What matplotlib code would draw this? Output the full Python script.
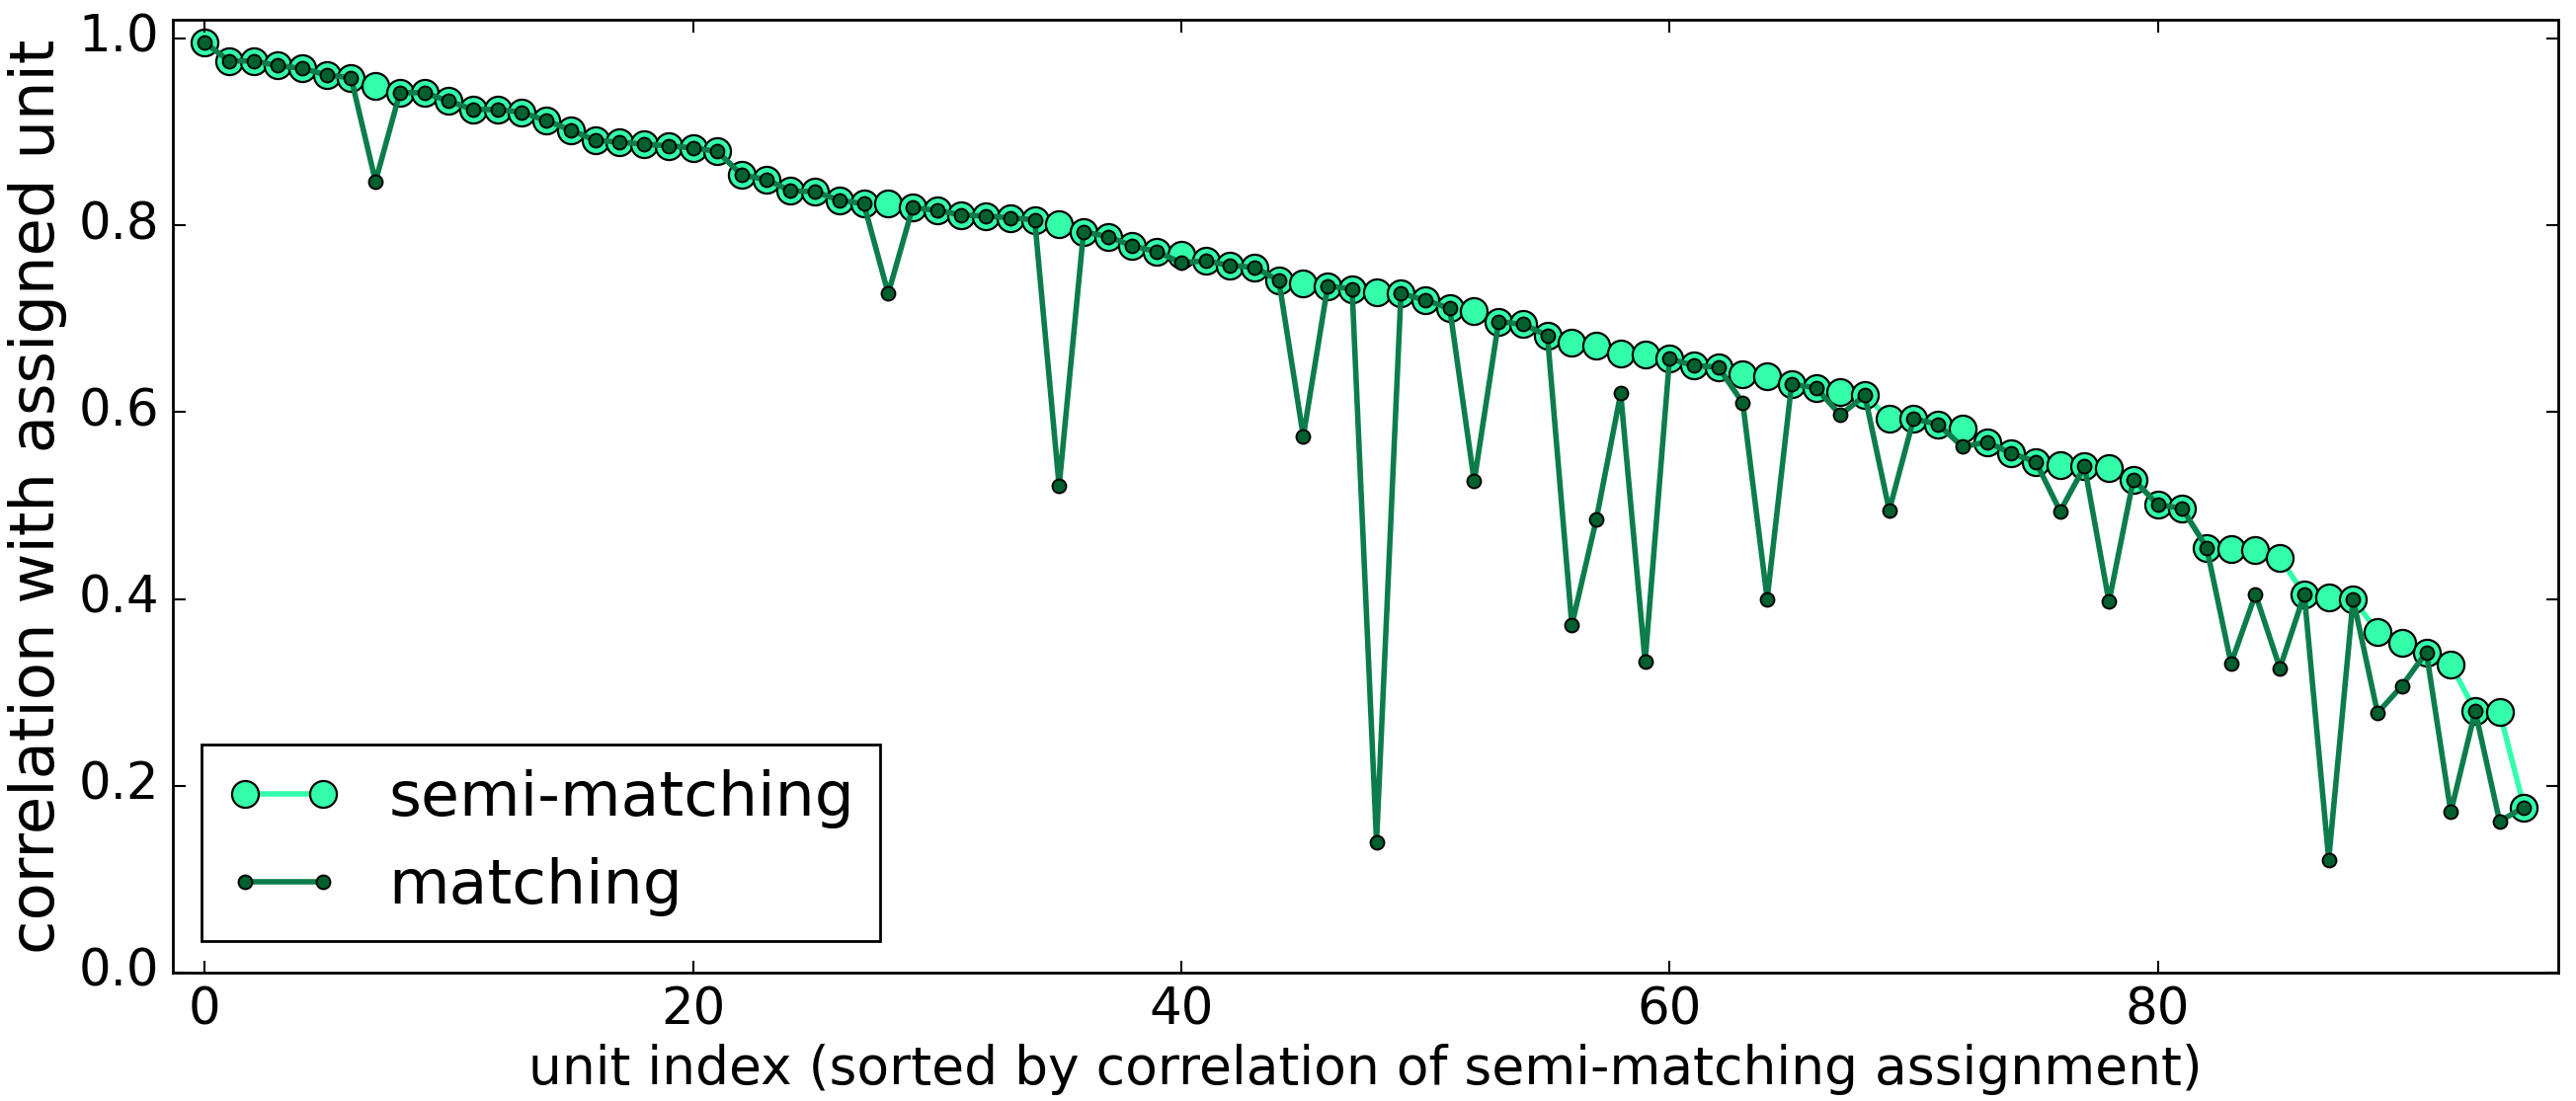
import numpy as np
import matplotlib
matplotlib.use("Agg")
import matplotlib.pyplot as plt

# correlation per unit, sorted by the semi-matching assignment
semi_matching = [
    0.996, 0.976, 0.976, 0.971, 0.968, 0.961, 0.958, 0.949, 0.942, 0.942,
    0.933, 0.924, 0.924, 0.921, 0.912, 0.902, 0.891, 0.889, 0.887, 0.885,
    0.883, 0.879, 0.854, 0.849, 0.837, 0.836, 0.827, 0.823, 0.823, 0.819,
    0.816, 0.811, 0.810, 0.808, 0.806, 0.801, 0.793, 0.788, 0.778, 0.772,
    0.769, 0.762, 0.757, 0.755, 0.741, 0.738, 0.735, 0.732, 0.728, 0.727,
    0.720, 0.711, 0.708, 0.697, 0.694, 0.682, 0.674, 0.671, 0.663, 0.662,
    0.657, 0.650, 0.648, 0.641, 0.638, 0.630, 0.626, 0.622, 0.618, 0.593,
    0.593, 0.587, 0.582, 0.568, 0.556, 0.547, 0.543, 0.542, 0.540, 0.528,
    0.501, 0.497, 0.455, 0.454, 0.452, 0.444, 0.405, 0.402, 0.400, 0.365,
    0.353, 0.343, 0.330, 0.280, 0.279, 0.177,
]
matching = [
    0.996, 0.976, 0.976, 0.971, 0.968, 0.961, 0.958, 0.847, 0.942, 0.942,
    0.933, 0.924, 0.924, 0.921, 0.912, 0.902, 0.891, 0.889, 0.887, 0.885,
    0.883, 0.879, 0.854, 0.849, 0.837, 0.836, 0.827, 0.823, 0.727, 0.819,
    0.816, 0.811, 0.810, 0.808, 0.806, 0.521, 0.793, 0.788, 0.778, 0.772,
    0.760, 0.762, 0.757, 0.755, 0.741, 0.574, 0.735, 0.732, 0.140, 0.727,
    0.720, 0.711, 0.526, 0.697, 0.694, 0.682, 0.372, 0.485, 0.620, 0.333,
    0.657, 0.650, 0.648, 0.610, 0.400, 0.630, 0.626, 0.597, 0.618, 0.495,
    0.593, 0.587, 0.563, 0.568, 0.556, 0.547, 0.494, 0.542, 0.397, 0.528,
    0.501, 0.497, 0.455, 0.331, 0.405, 0.326, 0.405, 0.121, 0.400, 0.278,
    0.307, 0.343, 0.172, 0.280, 0.162, 0.177,
]
unit_index = np.arange(len(semi_matching))

x_ticks = [0, 20, 40, 60, 80]
y_ticks = [0.0, 0.2, 0.4, 0.6, 0.8, 1.0]

plt.style.use("classic")
plt.rcParams["font.family"] = ["DejaVu Sans"]

fig = plt.figure(figsize=(26.08, 11.15), dpi=100, facecolor="white")
ax = fig.add_axes([0.0671, 0.1166, 0.9260, 0.8654])

light = "#33ffaa"
dark_line = "#0c7d4a"
dark_face = "#00602e"

ax.plot(unit_index, semi_matching, "-o", color=light, lw=4,
        markersize=19.5, markerfacecolor=light, markeredgecolor="black",
        markeredgewidth=1.6, label="semi-matching")
ax.plot(unit_index, matching, "-o", color=dark_line, lw=4,
        markersize=10, markerfacecolor=dark_face, markeredgecolor="black",
        markeredgewidth=1.4, label="matching")

ax.set_xlim(-1.3, 96.4)
ax.set_ylim(0, 1.02)
ax.set_xticks(x_ticks)
ax.set_yticks(y_ticks)
ax.set_yticklabels(["%.1f" % v for v in y_ticks])
ax.tick_params(direction="in", length=9, width=1.5, labelsize=37,
               top=True, right=True, pad=10)
for s in ax.spines.values():
    s.set_linewidth(2)

ax.set_xlabel("unit index (sorted by correlation of semi-matching assignment)",
              fontsize=38.5, labelpad=6)
ax.set_ylabel("correlation with assigned unit", fontsize=45, labelpad=8)

leg = ax.legend(loc="lower left", bbox_to_anchor=(0.012, 0.033),
                borderaxespad=0, numpoints=2, fontsize=45.5, fancybox=False,
                handlelength=1.85, handletextpad=0.75, borderpad=0.4,
                labelspacing=0.45)
leg.get_frame().set_edgecolor("black")
leg.get_frame().set_linewidth(2)

fig.savefig("out.png", dpi=100, facecolor="white")
